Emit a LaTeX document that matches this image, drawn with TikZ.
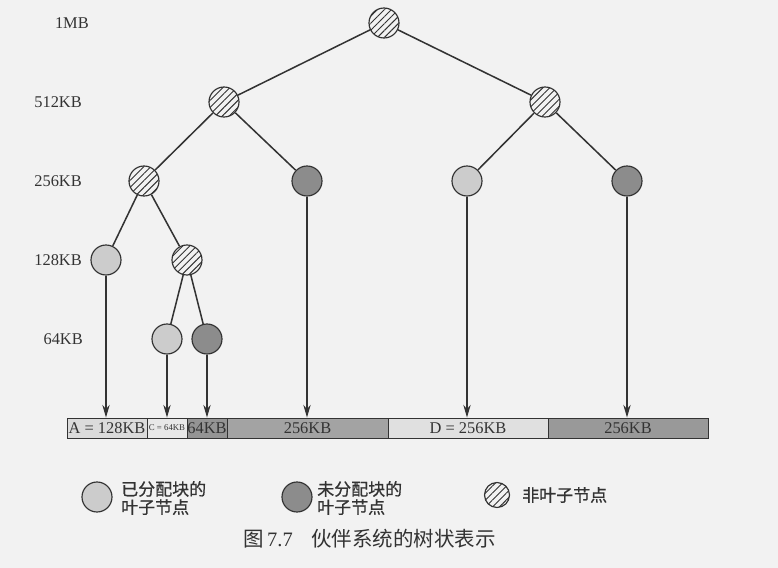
\documentclass[tikz,border=0pt]{standalone}
\usepackage{fontspec}
\setmainfont{Liberation Serif}
\newfontfamily\cjk{Noto Sans CJK SC}
\newfontfamily\cjkbold[FakeBold=0.8]{Noto Sans CJK SC}
\usetikzlibrary{arrows.meta,patterns.meta}
\definecolor{paper}{gray}{0.95}
\definecolor{ink}{gray}{0.2}
\definecolor{usedgray}{gray}{0.80}
\definecolor{freegray}{gray}{0.55}

\begin{document}
\begin{tikzpicture}[
x=0.03cm, y=-0.03cm,
treenode/.style={circle, draw=ink, line width=1pt, minimum size=0.9cm, inner sep=0pt},
usednode/.style={treenode, fill=usedgray},
freenode/.style={treenode, fill=freegray},
splitnode/.style={treenode, fill=white, pattern={Lines[angle=45,distance=4.2pt,line width=0.8pt]}, pattern color=ink},
sizelabel/.style={anchor=east, text=ink, font=\fontsize{14}{16}\selectfont, inner sep=0pt},
block/.style={rectangle, draw=ink, line width=0.8pt, minimum height=0.6cm, inner sep=0pt, text=ink, font=\fontsize{14}{16}\selectfont},
link/.style={ink, line width=1.3pt},
arrow/.style={ink, line width=1.2pt, -{Stealth[length=0.38cm,width=0.22cm]}},
legendtext/.style={anchor=west, align=left, text=ink, font=\cjkbold\fontsize{14.5}{15.5}\selectfont, inner sep=0pt}
]
        \useasboundingbox[fill=paper] (0,0) rectangle (778,568);

        % level labels
        \node [sizelabel] (s1) at (89, 23) {1MB};
        \node [sizelabel] (s2) at (82, 102) {512KB};
        \node [sizelabel] (s3) at (82, 181) {256KB};
        \node [sizelabel] (s4) at (82, 260) {128KB};
        \node [sizelabel] (s5) at (83, 339) {64KB};

        % tree
        \node [splitnode] (root) at (384, 23) {};
        \node [splitnode] (l) at (224, 102) {};
        \node [splitnode] (r) at (545, 102) {};
        \node [splitnode] (ll) at (144, 181) {};
        \node [freenode] (lr) at (307, 181) {};
        \node [usednode] (rl) at (467, 181) {};
        \node [freenode] (rr) at (627, 181) {};
        \node [usednode] (lll) at (106, 260) {};
        \node [splitnode] (llr) at (187, 260) {};
        \node [usednode] (llrl) at (167, 339) {};
        \node [freenode] (llrr) at (207, 339) {};

        \draw [link] (root) -- (l);
        \draw [link] (root) -- (r);
        \draw [link] (l) -- (ll);
        \draw [link] (l) -- (lr);
        \draw [link] (r) -- (rl);
        \draw [link] (r) -- (rr);
        \draw [link] (ll) -- (lll);
        \draw [link] (ll) -- (llr);
        \draw [link] (llr) -- (llrl);
        \draw [link] (llr) -- (llrr);

        % memory blocks
        \node [block, fill=black!14, minimum width=2.4cm] (bA) at (107, 428) {A = 128KB};
        \node [block, fill=black!9, minimum width=1.2cm, font=\fontsize{7.5}{8}\selectfont] (bC) at (167, 428) {C = 64KB};
        \node [block, fill=black!42, minimum width=1.2cm] (bE) at (207, 428) {64KB};
        \node [block, fill=black!36, minimum width=4.83cm] (bF) at (307.5, 428) {256KB};
        \node [block, fill=black!12, minimum width=4.8cm] (bD) at (468, 428) {D = 256KB};
        \node [block, fill=black!40, minimum width=4.8cm] (bG) at (628, 428) {256KB};

        \draw [arrow] (lll) -- (lll |- bA.north);
        \draw [arrow] (llrl) -- (llrl |- bC.north);
        \draw [arrow] (llrr) -- (llrr |- bE.north);
        \draw [arrow] (lr) -- (lr |- bF.north);
        \draw [arrow] (rl) -- (rl |- bD.north);
        \draw [arrow] (rr) -- (rr |- bG.north);

        % legend
        \node [usednode, minimum width=0.9cm, minimum height=0.84cm] (k1) at (97, 497) {};
        \node [legendtext] (t1) at (121, 498) {已分配块的\\叶子节点};
        \node [freenode, minimum width=0.9cm, minimum height=0.84cm] (k2) at (297, 497) {};
        \node [legendtext] (t2) at (317, 498) {未分配块的\\叶子节点};
        \node [splitnode, minimum size=0.75cm] (k3) at (497, 495) {};
        \node [legendtext] (t3) at (522, 495) {非叶子节点};

        \node [anchor=west, text=ink, inner sep=0pt, font=\fontsize{17.5}{20}\selectfont] (cap) at (243, 539) {{\cjk 图}\,7.7\hspace{0.9em}{\cjk 伙伴系统的树状表示}};
 \end{tikzpicture}
\end{document}
